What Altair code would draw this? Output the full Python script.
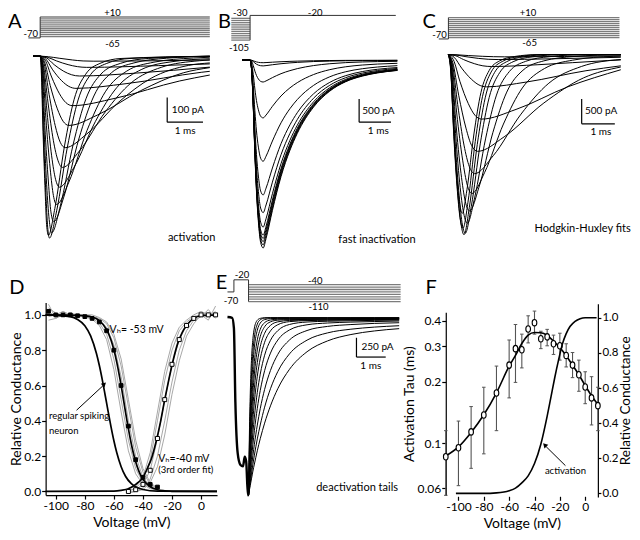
import math
import altair as alt
import pandas as pd

SX, SY = 0.975, 0.965
W, H = 624, 524
FONT = "Lato"

# ---------------- Panel A : activation (t ms, I pA) ----------------
A1 = [(-0.2,0),(0,0),(0.23,-2),(0.53,-8),(0.9,-15),(1.2,-19),(1.5,-20),(3.9,-17),(4.74,-15)]
A2 = [(-0.2,0),(0,0),(0.2,-4),(0.46,-19),(0.78,-34),(1.04,-42),(1.3,-45),(3.3,-38),(4.74,-31)]
A3 = [(-0.2,0),(0,0),(0.17,-6),(0.39,-34),(0.66,-61),(0.88,-75),(1.1,-80),(2.7,-68),(4.74,-44)]
A4 = [(-0.2,0),(0,0),(0.15,-10),(0.35,-55),(0.6,-99),(0.8,-122),(1.0,-130),(2.4,-111),(4.5,-65),(4.74,-61)]
A5 = [(-0.2,0),(0,0),(0.14,-16),(0.32,-84),(0.54,-152),(0.72,-188),(0.9,-200),(2.1,-170),(3.9,-100),(4.74,-76)]
A6 = [(-0.2,0),(0,0),(0.12,-22),(0.28,-118),(0.48,-213),(0.64,-263),(0.8,-280),(1.6,-238),(2.8,-140),(4.0,-67),(4.74,-46)]
A7 = [(-0.2,0),(0,0),(0.11,-30),(0.25,-155),(0.42,-281),(0.56,-348),(0.7,-370),(1.3,-315),(2.2,-185),(3.1,-89),(4.15,-37),(4.74,-27)]
A8 = [(-0.2,0),(0,0),(0.09,-36),(0.22,-189),(0.37,-342),(0.5,-423),(0.62,-450),(1.1,-383),(1.82,-225),(2.54,-108),(3.38,-45),(4.46,-18),(4.74,-15)]
A9 = [(-0.2,0),(0,0),(0.08,-42),(0.19,-223),(0.32,-403),(0.43,-498),(0.54,-530),(0.94,-451),(1.54,-265),(2.14,-127),(2.84,-53),(3.74,-21),(4.74,-10)]
A10 = [(-0.2,0),(0,0),(0.07,-48),(0.16,-252),(0.28,-456),(0.37,-564),(0.46,-600),(0.8,-510),(1.31,-300),(1.82,-144),(2.42,-60),(3.18,-24),(4.29,-7),(4.74,-4)]
A11 = [(-0.2,0),(0,0),(0.06,-54),(0.13,-281),(0.23,-509),(0.3,-630),(0.38,-670),(0.66,-570),(1.08,-335),(1.5,-161),(1.99,-67),(2.62,-27),(3.53,-8),(4.74,0)]
A12 = [(-0.2,0),(0,0),(0.05,-57),(0.11,-300),(0.19,-543),(0.26,-672),(0.32,-715),(0.56,-608),(0.92,-358),(1.28,-172),(1.7,-72),(2.24,-29),(3.02,-9),(4.74,0)]
A13 = [(-0.2,0),(0,0),(0.04,-59),(0.09,-309),(0.16,-559),(0.21,-692),(0.26,-736),(0.46,-626),(0.76,-368),(1.06,-177),(1.41,-74),(1.86,-29),(2.51,-9),(4.74,0)]
A14 = [(-0.2,0),(0,0),(0.03,-58),(0.08,-305),(0.14,-551),(0.18,-682),(0.23,-725),(0.41,-616),(0.68,-363),(0.95,-174),(1.27,-73),(1.67,-29),(2.26,-9),(4.74,0)]
A_PROTO_LEVELS = [-65, -57.5, -50, -42.5, -35, -27.5, -20, -12.5, -5, 2.5, 10]
A_PROTO_T = [-0.33, 0, 4.74]
A_HOLD = -70

# ---------------- Panel B : fast inactivation ----------------
B_T = [-0.25, 0, 0.05, 0.1, 0.15, 0.2, 0.26, 0.33, 0.41, 0.5, 0.7, 0.97, 1.25, 1.48, 1.99, 2.5, 3.0, 3.52, 4.0, 4.62]
B1 = [0,0,-243,-1014,-2028,-2839,-3488,-3934,-4056,-3853,-3245,-2515,-1947,-1582,-1014,-669,-466,-345,-276,-223]
B2 = [0,0,-239,-998,-1995,-2793,-3431,-3870,-3990,-3791,-3192,-2474,-1915,-1556,-998,-658,-459,-339,-271,-219]
B3 = [0,0,-235,-980,-1959,-2743,-3369,-3800,-3918,-3722,-3134,-2429,-1881,-1528,-980,-646,-451,-333,-266,-215]
B4 = [0,0,-231,-963,-1925,-2695,-3311,-3735,-3850,-3658,-3080,-2387,-1848,-1502,-963,-635,-443,-327,-262,-212]
B5 = [0,0,-227,-945,-1889,-2645,-3249,-3665,-3778,-3589,-3022,-2342,-1813,-1473,-945,-623,-434,-321,-257,-208]
B6 = [0,0,-216,-901,-1803,-2524,-3100,-3497,-3605,-3425,-2884,-2235,-1730,-1406,-901,-595,-415,-306,-245,-198]
B7 = [0,0,-198,-823,-1647,-2305,-2832,-3194,-3293,-3128,-2634,-2042,-1581,-1284,-823,-543,-379,-280,-224,-181]
B8 = [0,0,-175,-728,-1456,-2038,-2503,-2824,-2911,-2765,-2329,-1805,-1397,-1135,-728,-480,-335,-247,-198,-160]
B9 = [0,0,-131,-546,-1092,-1529,-1878,-2118,-2184,-2075,-1747,-1354,-1048,-852,-546,-360,-251,-186,-149,-120]
B10 = [0,0,-75,-312,-624,-874,-1073,-1211,-1248,-1186,-998,-774,-599,-487,-312,-206,-144,-106,-85,-69]
B11 = [0,0,-28,-118,-237,-331,-407,-459,-473,-449,-378,-293,-227,-184,-118,-78,-54,-40,-32,-26]
B12 = [0,0,-8,-31,-63,-88,-108,-121,-125,-119,-100,-78,-60,-49,-31,-21,-14,-11,-9,-7]
B13 = [0,0,-3,-14,-28,-39,-48,-54,-56,-53,-45,-35,-27,-22,-14,-9,-6,-5,-4,-3]
B_PROTO_PRE = [-105, -97.5, -90, -82.5, -75, -67.5, -60, -52.5, -45, -37.5, -30]
B_PROTO_TEST = -20
B_PROTO_T = [-0.59, 0, 4.57]

# ---------------- Panel C : Hodgkin-Huxley fits ----------------
C1 = [(0,0),(0.26,-4),(0.6,-19),(1.02,-34),(1.36,-42),(1.7,-45),(3.5,-38),(5.2,-28)]
C2 = [(0,0),(0.23,-8),(0.53,-42),(0.9,-76),(1.2,-94),(1.5,-100),(3.1,-85),(5.2,-54)]
C3 = [(0,0),(0.2,-19),(0.46,-101),(0.78,-182),(1.04,-226),(1.3,-240),(2.7,-204),(4.8,-120),(5.2,-108)]
C4 = [(0,0),(0.17,-52),(0.4,-273),(0.69,-494),(0.92,-611),(1.15,-650),(2.35,-553),(4.15,-325),(5.2,-226)]
C5 = [(0,0),(0.15,-104),(0.35,-546),(0.6,-988),(0.8,-1222),(1.0,-1300),(2.04,-1105),(3.6,-650),(5.2,-305)]
C6 = [(0,0),(0.13,-156),(0.31,-819),(0.53,-1482),(0.7,-1833),(0.88,-1950),(1.68,-1658),(2.88,-975),(4.08,-468),(5.2,-250)]
C7 = [(0,0),(0.12,-192),(0.28,-1008),(0.47,-1824),(0.63,-2256),(0.79,-2400),(1.35,-2040),(2.19,-1200),(3.03,-576),(4.01,-240),(5.2,-98)]
C8 = [(0,0),(0.11,-224),(0.25,-1176),(0.43,-2128),(0.57,-2632),(0.71,-2800),(1.09,-2380),(1.66,-1400),(2.23,-672),(2.9,-280),(3.75,-112),(4.99,-34),(5.2,-30)]
C9 = [(0,0),(0.1,-252),(0.22,-1323),(0.38,-2394),(0.51,-2961),(0.64,-3150),(0.92,-2678),(1.34,-1575),(1.76,-756),(2.25,-315),(2.88,-126),(3.79,-38),(5.2,0)]
C10 = [(0,0),(0.09,-272),(0.2,-1428),(0.34,-2584),(0.46,-3196),(0.57,-3400),(0.79,-2890),(1.12,-1700),(1.45,-816),(1.84,-340),(2.33,-136),(3.05,-41),(4.15,0),(5.2,0)]
C11 = [(0,0),(0.08,-288),(0.18,-1512),(0.31,-2736),(0.41,-3384),(0.51,-3600),(0.69,-3060),(0.96,-1800),(1.23,-864),(1.55,-360),(1.95,-144),(2.54,-43),(3.44,0),(5.2,0)]
C12 = [(0,0),(0.07,-290),(0.16,-1525),(0.28,-2759),(0.38,-3412),(0.47,-3630),(0.63,-3086),(0.87,-1815),(1.11,-871),(1.39,-363),(1.75,-145),(2.27,-44),(3.07,0),(5.2,0)]
C13 = [(0,0),(0.07,-280),(0.15,-1470),(0.26,-2660),(0.35,-3290),(0.44,-3500),(0.59,-2975),(0.81,-1750),(1.03,-840),(1.29,-350),(1.62,-140),(2.11,-42),(2.85,0),(5.2,0)]
C14 = [(0,0),(0.06,-256),(0.15,-1344),(0.25,-2432),(0.34,-3008),(0.42,-3200),(0.56,-2720),(0.77,-1600),(0.98,-768),(1.23,-320),(1.54,-128),(2.0,-38),(2.7,0),(5.2,0)]
C_PROTO_LEVELS = [-65, -57.5, -50, -42.5, -35, -27.5, -20, -12.5, -5, 2.5, 10]
C_PROTO_T = [-0.29, 0, 5.16]
C_HOLD = -70

# ---------------- Panel D : conductance curves (V mV, G) ----------------
D_INACT_V = [-105,-100,-95,-90,-85,-80,-75,-70,-65,-60,-55,-50,-45,-40,-35,-30]
D_INACT_C1 = [1.02,0.99,1.0,1.0,0.99,0.99,0.975,0.94,0.86,0.69,0.45,0.23,0.1,0.04,0.015,0.01]
D_INACT_C2 = [0.97,0.98,1.01,0.99,1.0,0.99,0.98,0.955,0.89,0.75,0.52,0.29,0.13,0.05,0.02,0.01]
D_INACT_C3 = [1.04,1.01,0.99,1.0,1.0,1.0,0.99,0.97,0.93,0.83,0.65,0.4,0.2,0.08,0.03,0.02]
D_INACT_C4 = [0.99,1.0,1.02,1.0,0.99,1.0,0.99,0.98,0.95,0.87,0.71,0.48,0.25,0.11,0.04,0.02]
D_INACT_C5 = [1.06,0.98,1.0,1.01,1.0,1.0,1.0,0.985,0.96,0.89,0.75,0.52,0.29,0.13,0.05,0.02]
D_INACT_MEAN = [1.02,1.0,1.0,1.0,0.995,0.99,0.98,0.96,0.91,0.8,0.6,0.37,0.18,0.08,0.04,0.025]
D_ACT_V = [-50,-45,-40,-35,-30,-25,-20,-15,-10,-5,0,5,10]
D_ACT_C1 = [0.0,0.02,0.06,0.18,0.4,0.63,0.8,0.91,0.96,0.99,1.0,1.01,1.0]
D_ACT_C2 = [0.01,0.01,0.04,0.12,0.3,0.52,0.72,0.86,0.94,0.98,1.0,0.99,1.02]
D_ACT_C3 = [0.0,0.0,0.02,0.07,0.2,0.4,0.62,0.8,0.91,0.97,0.99,1.03,0.98]
D_ACT_C4 = [-0.01,0.0,0.01,0.05,0.14,0.32,0.55,0.74,0.88,0.95,1.0,0.97,1.05]
D_ACT_C5 = [0.02,0.03,0.08,0.22,0.45,0.68,0.84,0.93,0.97,1.0,1.02,1.0,0.99]
D_ACT_MEAN = [0.0,0.01,0.04,0.12,0.3,0.52,0.72,0.86,0.94,0.98,1.0,1.0,1.0]
D_INACT_FIT_V = [-107,-90,-80,-75,-70,-65,-62,-60,-58,-56,-54,-53,-52,-50,-48,-46,-44,-42,-40,-35,-30,-25,-20,-10,11]
D_INACT_FIT_G = [1.0,0.999,0.995,0.988,0.968,0.917,0.858,0.802,0.731,0.646,0.55,0.5,0.45,0.354,0.269,0.198,0.142,0.1,0.069,0.027,0.01,0.004,0.001,0,0]
D_RS_FIT_V = [-107,-90,-85,-80,-76,-72,-70,-68,-66,-64,-62,-60,-58,-55,-52,-48,-44,-40,-30,11]
D_RS_FIT_G = [1.0,0.99,0.974,0.939,0.881,0.781,0.713,0.633,0.545,0.455,0.367,0.287,0.219,0.14,0.086,0.044,0.022,0.011,0.002,0]
D_ACT_FIT_V = [-107,-60,-55,-50,-45,-40,-37,-34,-31,-28,-25,-22,-19,-16,-13,-10,-5,0,11]
D_ACT_FIT_G = [0,0.002,0.006,0.015,0.04,0.08,0.13,0.19,0.28,0.39,0.52,0.64,0.75,0.84,0.9,0.94,0.98,0.995,1.0]

# ---------------- Panel E : deactivation tails ----------------
E_PRE = [(-0.72,10),(-0.56,0),(-0.5,-134),(-0.45,-1091),(-0.37,-1758),(-0.28,-1904),(-0.19,-1925),(-0.13,-1800),(-0.08,-1863),(-0.02,-2300),(0,-2300)]
E_T = [0, 0.03, 0.06, 0.1, 0.15, 0.2, 0.3, 0.4, 0.55, 0.75, 1.0, 1.4, 2.0, 2.7, 3.5, 4.3, 5.15]
E1 = [-2300,-1498,-976,-551,-270,-132,-32,-8,0,0,0,0,0,0,0,0,0]
E2 = [-2300,-1648,-1181,-757,-434,-249,-82,-27,-5,0,0,0,0,0,0,0,0]
E3 = [-2300,-1753,-1338,-933,-596,-381,-160,-69,-24,-11,-8,-8,-7,-6,-6,-5,-4]
E4 = [-2300,-1860,-1504,-1137,-802,-566,-286,-150,-63,-29,-19,-16,-14,-13,-11,-10,-8]
E5 = [-2300,-1932,-1626,-1289,-969,-728,-417,-244,-116,-53,-31,-24,-22,-19,-17,-15,-13]
E6 = [-2300,-1999,-1737,-1442,-1146,-911,-580,-374,-201,-99,-53,-35,-29,-26,-22,-20,-17]
E7 = [-2300,-2055,-1837,-1581,-1314,-1090,-757,-531,-318,-170,-90,-50,-37,-32,-28,-24,-21]
E8 = [-2300,-2106,-1929,-1717,-1484,-1286,-966,-731,-485,-292,-167,-87,-55,-45,-39,-34,-30]
E9 = [-2300,-2148,-2006,-1832,-1638,-1463,-1173,-943,-685,-458,-289,-158,-91,-68,-56,-49,-42]
E10 = [-2300,-2185,-2078,-1940,-1782,-1639,-1390,-1178,-928,-682,-475,-288,-165,-112,-88,-73,-64]
E11 = [-2300,-2212,-2129,-2022,-1896,-1779,-1569,-1389,-1158,-919,-697,-468,-290,-196,-148,-121,-103]
E12 = [-2300,-2232,-2170,-2087,-1986,-1895,-1723,-1567,-1365,-1141,-919,-668,-440,-300,-217,-171,-141]
E_PROTO_LEVELS = [-40, -50, -60, -70, -80, -90, -100, -110]
E_PROTO_HOLD = -70
E_PROTO_PRE = -20
E_PROTO_T = [-0.72, -0.5, 0, 5.2]

# ---------------- Panel F : activation tau ----------------
F_V = [-110,-100,-90,-80,-70,-60,-55,-50,-45,-40,-35,-30,-25,-20,-15,-10,-5,0,5,10]
F_TAU = [0.0859,0.0951,0.1137,0.1377,0.1766,0.242,0.2915,0.288,0.364,0.391,0.326,0.333,0.308,0.301,0.270,0.242,0.217,0.189,0.167,0.153]
F_LO = [0.0555,0.0619,0.0753,0.0887,0.1153,0.167,0.199,0.2344,0.311,0.3434,0.2915,0.301,0.273,0.256,0.237,0.210,0.180,0.1564,0.123,0.1153]
F_HI = [0.1153,0.1285,0.1514,0.1884,0.2393,0.3214,0.383,0.3434,0.4226,0.4457,0.3548,0.3625,0.3396,0.347,0.308,0.279,0.256,0.2244,0.2123,0.1884]
F_FIT_V = [-110,-100,-90,-80,-70,-60,-55,-50,-45,-40,-35,-30,-25,-20,-15,-10,-5,0,5,10]
F_FIT_TAU = [0.0866,0.096,0.113,0.138,0.177,0.239,0.27,0.309,0.34,0.35,0.349,0.339,0.317,0.295,0.269,0.242,0.217,0.192,0.171,0.155]
F_ACT_V = [-102,-80,-70,-60,-55,-50,-45,-40,-35,-30,-27,-24,-21,-18,-15,-12,-8,-4,0,9]
F_ACT_G = [0,0,0.003,0.015,0.03,0.06,0.1,0.17,0.28,0.44,0.55,0.66,0.76,0.85,0.91,0.95,0.98,0.995,1.0,1.0]


# ================= helpers (layout / styling) =================
def lin_range(p0, k, d0, d1, s):
    return [s * (p0 + k * d0), s * (p0 + k * d1)]


def xscale(p0, k, d0, d1):
    return alt.Scale(domain=[d0, d1], range=lin_range(p0, k, d0, d1, SX), nice=False, zero=False)


def yscale(p0, k, d0, d1):
    return alt.Scale(domain=[d0, d1], range=lin_range(p0, -k, d0, d1, SY), nice=False, zero=False)


def ylog(p_ref, ref, k, d0, d1):
    f = lambda v: SY * (p_ref - k * math.log10(v / ref))
    return alt.Scale(type="log", domain=[d0, d1], range=[f(d0), f(d1)], nice=False)


def series_df(series):
    rows = []
    for k, s in enumerate(series):
        for i, (x, y) in enumerate(s):
            rows.append({"k": k, "i": i, "x": x, "y": y})
    return pd.DataFrame(rows)


def lines(series, xs, ys, width=1.0, color="black", interp="linear", xaxis=None, yaxis=None):
    return alt.Chart(series_df(series)).mark_line(
        strokeWidth=width, color=color, interpolate=interp
    ).encode(
        x=alt.X("x:Q", scale=xs, axis=xaxis),
        y=alt.Y("y:Q", scale=ys, axis=yaxis),
        detail="k:N",
        order="i:Q",
    )


def texts(rows, xs, ys, size=10, align="center", baseline="middle", dx=0, dy=0, font=FONT):
    df = pd.DataFrame(rows, columns=["x", "y", "label"])
    return alt.Chart(df).mark_text(
        font=font, fontSize=size, align=align, baseline=baseline, dx=dx, dy=dy, color="black"
    ).encode(
        x=alt.X("x:Q", scale=xs, axis=None),
        y=alt.Y("y:Q", scale=ys, axis=None),
        text="label:N",
    )


def rules(segs, xs, ys, width=1.2, color="black"):
    df = pd.DataFrame(segs, columns=["x", "y", "x2", "y2"])
    return alt.Chart(df).mark_rule(strokeWidth=width, color=color).encode(
        x=alt.X("x:Q", scale=xs, axis=None),
        y=alt.Y("y:Q", scale=ys, axis=None),
        x2="x2:Q",
        y2="y2:Q",
    )


def points(xv, yv, xs, ys, shape="circle", size=30, fill="white", stroke="black", sw=1.0):
    df = pd.DataFrame({"x": xv, "y": yv})
    return alt.Chart(df).mark_point(
        shape=shape, size=size, filled=True, fill=fill, stroke=stroke, strokeWidth=sw, opacity=1
    ).encode(
        x=alt.X("x:Q", scale=xs, axis=None),
        y=alt.Y("y:Q", scale=ys, axis=None),
    )


def arrow_head(x, y, angle, xs, ys):
    df = pd.DataFrame({"x": [x], "y": [y]})
    return alt.Chart(df).mark_point(
        shape="triangle", size=28, filled=True, color="black", angle=angle, opacity=1
    ).encode(x=alt.X("x:Q", scale=xs, axis=None), y=alt.Y("y:Q", scale=ys, axis=None))


def protocol(levels, t_step, t_end, extra, xs, ys):
    grey = [[(t_step, v), (t_end, v)] for v in levels]
    return [lines(grey, xs, ys, width=1.3, color="#7c7c7c"), lines(extra, xs, ys, width=1.0, color="#333333")]


AX = dict(grid=False, tickSize=4, labelPadding=1, titlePadding=1, labelFontSize=12, titleFontSize=14,
          domainColor="black", tickColor="black", labelColor="black", titleColor="black",
          labelFont=FONT, titleFont=FONT, titleFontWeight="normal", domainWidth=1.2, tickWidth=1.2,
          labelFlush=False, labelOverlap=False)
AX0 = {**AX, "titlePadding": 0}
AXB = {**AX, "titlePadding": 4}
AXR = {**AX, "tickSize": 3, "labelFontSize": 11.5, "titleFontSize": 13.5}
SUBFONT = "Lato, 'DejaVu Sans', 'Noto Sans'"

L = []  # all layers, every one on its own (explicitly ranged) scales

# ================= Panel A =================
xsA = xscale(33, 36.7, -0.3, 4.8)
ysA = yscale(50, 0.256, -800, 100)
ysAp = yscale(12.03, 0.271, -100, 40)
A_TRACES = [A1, A2, A3, A4, A5, A6, A7, A8, A9, A10, A11, A12, A13, A14]
L += protocol(A_PROTO_LEVELS, A_PROTO_T[1], A_PROTO_T[2],
              [[(A_PROTO_T[0], A_HOLD), (A_PROTO_T[1], A_HOLD)],
               [(A_PROTO_T[1], A_HOLD), (A_PROTO_T[1], max(A_PROTO_LEVELS))]], xsA, ysAp)
L += [
    texts([(2.02, 25, "+10"), (2.02, -92, "-65")], xsA, ysAp, size=9.5),
    texts([(-0.06, -55, "-70")], xsA, ysAp, size=9.5, align="right"),
    lines(A_TRACES, xsA, ysA, width=1.0, interp="monotone"),
    rules([(3.55, -167, 3.55, -267), (3.55, -267, 4.55, -267)], xsA, ysA),
    texts([(3.68, -217, "100 pA")], xsA, ysA, size=10, align="left"),
    texts([(4.05, -303, "1 ms")], xsA, ysA, size=10),
    texts([(4.9, -734, "activation")], xsA, ysA, size=11, align="right"),
    texts([(-0.71, 140, "A")], xsA, ysA, size=20),
]

# ================= Panel B =================
xsB = xscale(248.3, 32.7, -0.7, 4.7)
ysB = yscale(54, 0.048, -4200, 900)
ysBp = yscale(1.67, 0.301, -140, 0)
B_ROWS = [B1, B2, B3, B4, B5, B6, B7, B8, B9, B10, B11, B12, B13]
B_TRACES = [list(zip(B_T, r)) for r in B_ROWS]
L += protocol(B_PROTO_PRE, B_PROTO_T[0], B_PROTO_T[1],
              [[(B_PROTO_T[1], B_PROTO_TEST), (B_PROTO_T[2], B_PROTO_TEST)],
               [(B_PROTO_T[1], min(B_PROTO_PRE)), (B_PROTO_T[1], B_PROTO_TEST)]], xsB, ysBp)
L += [
    texts([(-0.31, -11, "-30"), (2.04, -11, "-20"), (-0.35, -133, "-105")], xsB, ysBp, size=9.5),
    lines(B_TRACES, xsB, ysB, width=1.0, interp="monotone"),
    rules([(3.42, -840, 3.42, -1340), (3.42, -1340, 4.42, -1340)], xsB, ysB),
    texts([(3.52, -1090, "500 pA")], xsB, ysB, size=10, align="left"),
    texts([(4.02, -1530, "1 ms")], xsB, ysB, size=10),
    texts([(5.19, -3875, "fast inactivation")], xsB, ysB, size=11, align="right"),
    texts([(-0.8, 833, "B")], xsB, ysB, size=20),
]

# ================= Panel C =================
xsC = xscale(451.7, 34, -0.6, 5.6)
ysC = yscale(48.3, 0.0514, -3800, 700)
ysCp = yscale(12.76, 0.276, -100, 40)
C_TRACES = [C1, C2, C3, C4, C5, C6, C7, C8, C9, C10, C11, C12, C13, C14]
L += protocol(C_PROTO_LEVELS, C_PROTO_T[1], C_PROTO_T[2],
              [[(C_PROTO_T[0], C_HOLD), (C_PROTO_T[1], C_HOLD)],
               [(C_PROTO_T[1], C_HOLD), (C_PROTO_T[1], max(C_PROTO_LEVELS))]], xsC, ysCp)
L += [
    texts([(2.4, 26, "+10"), (2.45, -87, "-65")], xsC, ysCp, size=9.5),
    texts([(-0.05, -56, "-70")], xsC, ysCp, size=9.5, align="right"),
    lines(C_TRACES, xsC, ysC, width=1.0, interp="monotone"),
    rules([(4.02, -895, 4.02, -1395), (4.02, -1395, 5.02, -1395)], xsC, ysC),
    texts([(4.12, -1145, "500 pA")], xsC, ysC, size=10, align="left"),
    texts([(4.6, -1560, "1 ms")], xsC, ysC, size=10),
    texts([(5.5, -3515, "Hodgkin-Huxley fits")], xsC, ysC, size=11, align="right"),
    texts([(-0.58, 648, "C")], xsC, ysC, size=20),
]

# ================= Panel D =================
xsD = xscale(198, 1.49, -107, 11)
ysD = yscale(501, 183, -0.02, 1.07)
axDx = alt.Axis(orient="bottom", offset=SY * 504.7 - H, values=[-100, -80, -60, -40, -20, 0],
                labelExpr="'' + datum.value", title="Voltage (mV)", **AXB)
axDy = alt.Axis(orient="left", offset=-SX * 38.6, values=[0, 0.2, 0.4, 0.6, 0.8, 1.0], format=".1f",
                title="Relative Conductance", **AX0)
D_GREY = [list(zip(D_INACT_V, c)) for c in [D_INACT_C1, D_INACT_C2, D_INACT_C3, D_INACT_C4, D_INACT_C5]] + \
         [list(zip(D_ACT_V, c)) for c in [D_ACT_C1, D_ACT_C2, D_ACT_C3, D_ACT_C4, D_ACT_C5]]
D_FITS = [list(zip(D_INACT_FIT_V, D_INACT_FIT_G)), list(zip(D_RS_FIT_V, D_RS_FIT_G)),
          list(zip(D_ACT_FIT_V, D_ACT_FIT_G))]
L += [
    lines(D_GREY, xsD, ysD, width=1.0, color="#a8a8a8", xaxis=axDx, yaxis=axDy),
    lines(D_FITS, xsD, ysD, width=1.7, color="black", interp="monotone"),
    points(D_INACT_V, D_INACT_MEAN, xsD, ysD, shape="square", size=14, fill="black"),
    points(D_ACT_V, D_ACT_MEAN, xsD, ysD, shape="square", size=16, fill="white", sw=1.0),
    texts([(-63.0, 0.916, "V\u2095= -53 mV")], xsD, ysD, size=10.5, align="left", font=SUBFONT),
    texts([(-29.5, 0.182, "V\u2095=-40 mV")], xsD, ysD, size=10.5, align="left", font=SUBFONT),
    texts([(-29.5, 0.122, "(3rd order fit)")], xsD, ysD, size=9.5, align="left"),
    texts([(-104.7, 0.426, "regular spiking"), (-104.7, 0.344, "neuron")], xsD, ysD, size=9.5, align="left"),
    rules([(-85.7, 0.46, -67.6, 0.598)], xsD, ysD, width=1.0),
    arrow_head(-67.0, 0.605, 47, xsD, ysD),
    texts([(-126.8, 1.153, "D")], xsD, ysD, size=20),
]

# ================= Panel E =================
xsE = xscale(246.7, 30, -0.9, 5.3)
ysE = yscale(321, 0.08, -2400, 400)
ysEp = yscale(276.66, 0.251, -140, 10)
E_ROWS = [E1, E2, E3, E4, E5, E6, E7, E8, E9, E10, E11, E12]
E_TRACES = [list(zip(E_T, r)) for r in E_ROWS]
t0, t1, t2, t3 = E_PROTO_T
L += protocol(E_PROTO_LEVELS, t2, t3,
              [[(t0, E_PROTO_HOLD), (t1, E_PROTO_HOLD)],
               [(t1, E_PROTO_HOLD), (t1, E_PROTO_PRE)],
               [(t1, E_PROTO_PRE), (t2, E_PROTO_PRE)],
               [(t2, E_PROTO_PRE), (t2, min(E_PROTO_LEVELS))]], xsE, ysEp)
L += [
    texts([(-0.22, 0, "-20"), (2.28, -26.5, "-40"), (2.39, -133, "-110"), (-0.6, -106, "-70")],
          xsE, ysEp, size=9.5),
    lines(E_TRACES, xsE, ysE, width=1.0, interp="monotone"),
    lines([E_PRE], xsE, ysE, width=2.4, interp="monotone"),
    rules([(3.69, -259, 3.69, -509), (3.69, -509, 4.69, -509)], xsE, ysE),
    texts([(3.86, -384, "250 pA")], xsE, ysE, size=10, align="left"),
    texts([(4.18, -628, "1 ms")], xsE, ysE, size=10),
    texts([(5.11, -2209, "deactivation tails")], xsE, ysE, size=11, align="right"),
    texts([(-0.92, 450, "E")], xsE, ysE, size=20),
]

# ================= Panel F =================
xsF = xscale(592, 1.3, -110, 10)
ysFL = ylog(324, 0.4, 211, 0.0556, 0.44)
ysFR = yscale(503, 182, -0.02, 1.08)
axFx = alt.Axis(orient="bottom", offset=SY * 506 - H, values=[-100, -80, -60, -40, -20, 0],
                labelExpr="'' + datum.value", title="Voltage (mV)", domain=False, **AXB)
axFl = alt.Axis(orient="left", offset=-SX * 449, values=[0.06, 0.1, 0.2, 0.3, 0.4],
                labelExpr="'' + datum.value", title="Activation Tau (ms)", **AX)
axFr = alt.Axis(orient="right", offset=SX * 605 - W, values=[0, 0.2, 0.4, 0.6, 0.8, 1.0], format=".1f",
                title="Relative Conductance", titleAngle=270, titleBaseline="top", titleX=21, **AXR)
cap = 1.4
F_df = pd.DataFrame({"V": F_V, "lo": F_LO, "hi": F_HI})
caps = [(v - cap, lo, v + cap, lo) for v, lo in zip(F_V, F_LO)] + \
       [(v - cap, hi, v + cap, hi) for v, hi in zip(F_V, F_HI)]
ELLIPSE = "M0,-1C0.55,-1,0.72,-0.55,0.72,0C0.72,0.55,0.55,1,0,1C-0.55,1,-0.72,0.55,-0.72,0C-0.72,-0.55,-0.55,-1,0,-1Z"
L += [
    alt.Chart(F_df).mark_rule(color="#555555", strokeWidth=1.1).encode(
        x=alt.X("V:Q", scale=xsF, axis=axFx), y=alt.Y("lo:Q", scale=ysFL, axis=axFl), y2="hi:Q"),
    rules(caps, xsF, ysFL, width=1.0, color="#555555"),
    lines([list(zip(F_FIT_V, F_FIT_TAU))], xsF, ysFL, width=1.6, interp="monotone"),
    points(F_V, F_TAU, xsF, ysFL, shape=ELLIPSE, size=42, fill="white", sw=1.1),
    lines([list(zip(F_ACT_V, F_ACT_G))], xsF, ysFR, width=1.6, interp="monotone", yaxis=axFr),
    texts([(-15.6, 0.126, "activation")], xsF, ysFR, size=9.5),
    rules([(-15.6, 0.158, -30.8, 0.266)], xsF, ysFR, width=1.0),
    arrow_head(-31.5, 0.273, 315, xsF, ysFR),
    texts([(-121.5, 1.17, "F")], xsF, ysFR, size=20),
]

chart = alt.layer(*L).resolve_scale(
    x="independent", y="independent"
).properties(
    width=W, height=H, autosize=alt.AutoSizeParams(type="none"), padding=0
).configure_view(stroke=None)

chart.save("out.html", embed_options={"renderer": "svg", "actions": False})
